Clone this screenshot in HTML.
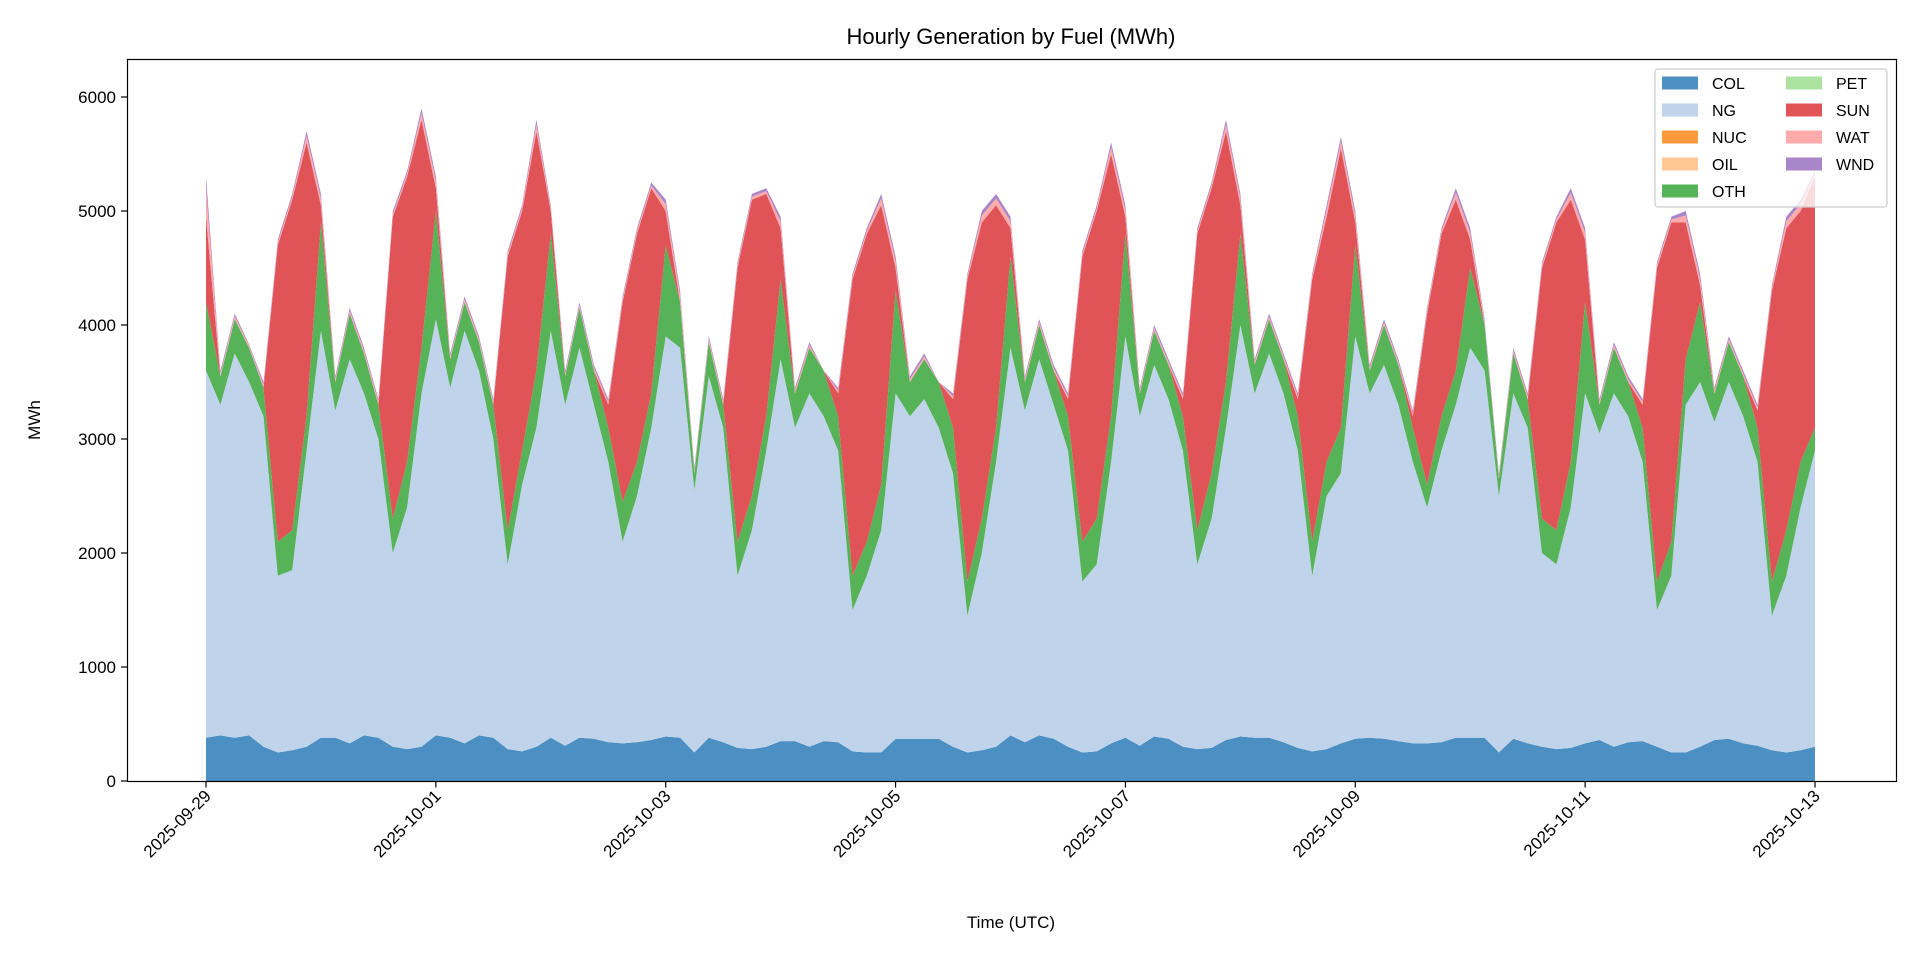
<!DOCTYPE html>
<html><head><meta charset="utf-8"><title>Hourly Generation by Fuel</title>
<style>html,body{margin:0;padding:0;background:#fff}svg{display:block;font-family:"Liberation Sans","DejaVu Sans",sans-serif}</style>
</head><body>
<svg id="chart" width="1920" height="960" viewBox="0 0 1920 960">
<text x="1011" y="44" text-anchor="middle" font-size="22" fill="#000">Hourly Generation by Fuel (MWh)</text>
<g id="areas"></g>
<g id="axes"></g>
<rect x="127.5" y="59.5" width="1769" height="722" fill="none" stroke="#000" stroke-width="1.2"/>
<text x="1011" y="928" text-anchor="middle" font-size="17">Time (UTC)</text>
<text transform="translate(40,420) rotate(-90)" text-anchor="middle" font-size="17">MWh</text>
<g id="legend"></g>
</svg>
<script>
// 3-hourly samples from 2025-09-29 00:00 UTC to 2025-10-13 00:00 UTC
const hours = [];
for (let i = 0; i <= 112; i++) hours.push(i * 3);
const xTickHours = [0, 48, 96, 144, 192, 240, 288, 336];
const xTickLabels = ["2025-09-29","2025-10-01","2025-10-03","2025-10-05","2025-10-07","2025-10-09","2025-10-11","2025-10-13"];
const yTicks = [0, 1000, 2000, 3000, 4000, 5000, 6000];
const seriesNames = ["COL","NG","NUC","OIL","OTH","PET","SUN","WAT","WND"];
const seriesColors = ["#4b8fc3","#bfd3ea","#ff993e","#ffc794","#57b357","#ade3a0","#e05458","#ffabab","#a986c9"];

const COL = [380,400,380,400,300,250,270,300, 380,380,330,400,380,300,280,300, 400,380,330,400,380,280,260,300,
 380,310,380,370,340,330,340,360, 390,380,250,380,340,290,280,300, 350,350,300,350,340,260,250,250,
 370,370,370,370,300,250,270,300, 400,340,400,370,300,250,260,330, 380,310,390,370,300,280,290,360,
 390,380,380,340,290,260,280,330, 370,380,370,350,330,330,340,380, 380,380,250,370,330,300,280,290,
 330,360,300,340,350,300,250,250, 300,360,370,330,310,270,250,270, 300];
const NG = [3220,2900,3370,3100,2900,1550,1580,2600, 3570,2870,3370,3000,2620,1700,2120,3100, 3650,3070,3620,3200,2620,1620,2340,2800,
 3570,2990,3420,2930,2460,1770,2160,2740, 3510,3420,2300,3170,2760,1510,1920,2600, 3350,2750,3100,2850,2560,1240,1550,1950,
 3030,2830,2980,2730,2400,1200,1730,2500, 3400,2910,3300,2930,2600,1500,1640,2470, 3520,2890,3260,2980,2600,1620,2010,2740,
 3610,3020,3370,3060,2610,1540,2220,2370, 3530,3020,3280,2950,2470,2070,2560,2920, 3420,3220,2250,3030,2770,1700,1620,2110,
 3070,2690,3100,2860,2450,1200,1550,3050, 3200,2790,3130,2870,2490,1180,1550,2130, 2600];
const OTH = [600,250,300,300,250,300,350,300, 950,250,400,350,300,300,400,400, 950,250,250,250,300,300,300,500,
 850,250,350,300,300,350,300,300, 800,400,150,300,200,300,300,300, 700,300,400,400,300,300,300,400,
 900,300,350,400,400,300,300,300, 800,250,300,300,300,350,400,400, 900,200,300,300,300,300,400,400,
 800,250,300,300,300,300,300,400, 800,200,350,350,300,200,300,300, 700,400,150,350,250,300,300,400,
 800,250,400,300,300,250,300,400, 700,250,350,350,300,300,400,400, 200];
const SUN = [750,0,0,0,0,2600,2900,2400, 150,0,0,0,0,2650,2500,2000, 200,0,0,0,0,2400,2100,2100,
 200,0,0,0,200,1750,2000,1800, 300,0,0,0,0,2400,2600,1950, 450,0,0,0,200,2600,2700,2450,
 200,0,0,0,250,2650,2600,1950, 250,0,0,0,150,2500,2700,2300, 150,0,0,0,150,2600,2500,2200,
 250,0,0,0,150,2300,2150,2450, 200,0,0,0,100,1500,1600,1500, 250,0,0,0,0,2200,2700,2300,
 550,0,0,0,200,2750,2800,1200, 150,0,0,0,150,2550,2650,2200, 2200];
const WAT = [250,25,25,20,25,25,25,60, 60,25,25,25,25,25,25,60, 60,25,25,25,25,25,25,60,
 25,25,25,25,25,25,25,25, 60,60,25,25,25,25,25,25, 60,25,25,0,25,25,25,60,
 60,25,25,0,25,25,60,60, 60,25,25,25,25,25,25,60, 60,25,25,25,25,25,25,60,
 60,25,25,25,25,25,60,60, 60,25,25,25,25,25,25,60, 60,25,25,25,25,25,25,60,
 60,25,25,25,25,25,25,60, 60,25,25,25,25,25,60,60, 25];
const WND = [100,25,25,10,25,25,25,40, 40,25,25,25,25,25,25,40, 40,25,25,25,25,25,25,40,
 25,25,25,25,25,25,25,25, 40,40,25,25,25,25,25,25, 40,25,25,0,25,25,25,40,
 40,25,25,0,25,25,40,40, 40,25,25,25,25,25,25,40, 40,25,25,25,25,25,25,40,
 40,25,25,25,25,25,40,40, 40,25,25,25,25,25,25,40, 40,25,25,25,25,25,25,40,
 40,25,25,25,25,25,25,40, 40,25,25,25,25,25,40,40, 25];
const NUC = [], OIL = [], PET = [];

const X0 = 206, X1 = 1815, H_MAX = 336;
const Y0 = 781, Y1 = 97, V_MAX = 6000;
function xScale(h) { return X0 + h * (X1 - X0) / H_MAX; }
function yScale(v) { return Y0 - v * (Y0 - Y1) / V_MAX; }

const NS = "http://www.w3.org/2000/svg";
const series = [COL, NG, NUC, OIL, OTH, PET, SUN, WAT, WND];
const areas = document.getElementById("areas");
let base = hours.map(() => 0);
series.forEach((vals, si) => {
  const top = hours.map((h, i) => base[i] + (vals[i] || 0));
  let d = "M" + hours.map((h, i) => xScale(h).toFixed(1) + "," + yScale(top[i]).toFixed(1)).join("L");
  for (let i = hours.length - 1; i >= 0; i--) d += "L" + xScale(hours[i]).toFixed(1) + "," + yScale(base[i]).toFixed(1);
  d += "Z";
  const p = document.createElementNS(NS, "path");
  p.setAttribute("d", d);
  p.setAttribute("fill", seriesColors[si]);
  
  
  areas.appendChild(p);
  base = top;
});

const axes = document.getElementById("axes");
yTicks.forEach(v => {
  const y = yScale(v);
  const l = document.createElementNS(NS, "line");
  l.setAttribute("x1", 121); l.setAttribute("x2", 127.5);
  l.setAttribute("y1", y); l.setAttribute("y2", y);
  l.setAttribute("stroke", "#000"); l.setAttribute("stroke-width", "1.2");
  
  
  axes.appendChild(l);
  const t = document.createElementNS(NS, "text");
  t.setAttribute("x", 116); t.setAttribute("y", y + 6);
  t.setAttribute("text-anchor", "end"); t.setAttribute("font-size", "17");
  t.textContent = v;
  
  
  axes.appendChild(t);
});
xTickHours.forEach((h, i) => {
  const x = xScale(h);
  const l = document.createElementNS(NS, "line");
  l.setAttribute("x1", x); l.setAttribute("x2", x);
  l.setAttribute("y1", 781); l.setAttribute("y2", 787.5);
  l.setAttribute("stroke", "#000"); l.setAttribute("stroke-width", "1.2");
  
  
  axes.appendChild(l);
  const t = document.createElementNS(NS, "text");
  t.setAttribute("transform", "translate(" + (x + 6) + ",797) rotate(-45)");
  t.setAttribute("text-anchor", "end"); t.setAttribute("font-size", "17");
  t.textContent = xTickLabels[i];
  
  
  axes.appendChild(t);
});

const legend = document.getElementById("legend");
const box = document.createElementNS(NS, "rect");
box.setAttribute("x", 1655); box.setAttribute("y", 69); box.setAttribute("width", 232); box.setAttribute("height", 138);
box.setAttribute("rx", 3); box.setAttribute("fill", "#fff"); box.setAttribute("fill-opacity", "0.8");
box.setAttribute("stroke", "#ccc"); box.setAttribute("stroke-width", "1.2");


legend.appendChild(box);
seriesNames.forEach((n, i) => {
  const col = i < 5 ? 0 : 1, row = i < 5 ? i : i - 5;
  const px = col ? 1786 : 1662, tx = col ? 1836 : 1712, cy = 83 + row * 27;
  const g = document.createElementNS(NS, "g");
  
  
  const r = document.createElementNS(NS, "rect");
  r.setAttribute("x", px); r.setAttribute("y", cy - 6.5); r.setAttribute("width", 36); r.setAttribute("height", 13);
  r.setAttribute("fill", seriesColors[i]);
  g.appendChild(r);
  const t = document.createElementNS(NS, "text");
  t.setAttribute("x", tx); t.setAttribute("y", cy + 6); t.setAttribute("font-size", "16");
  t.textContent = n;
  g.appendChild(t);
  legend.appendChild(g);
});
</script>
</body></html>
